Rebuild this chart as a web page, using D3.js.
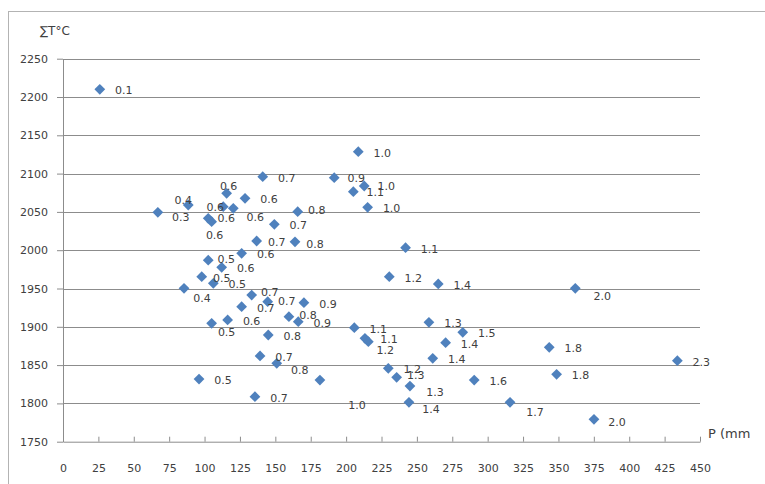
<!DOCTYPE html>
<html>
<head>
<meta charset="utf-8">
<script src="https://cdn.jsdelivr.net/npm/d3@7/dist/d3.min.js"></script>
<style>
  html, body { margin: 0; padding: 0; background: #ffffff; overflow: hidden; }
  svg { display: block; }
</style>
</head>
<body>
<svg id="chart" width="765" height="484"></svg>
<script>
// ---- data ----
const precipitation = [26, 67, 88.5, 115.6, 128.6, 113.2, 120.3, 102.6, 105, 141.1,
  149.3, 165.8, 136.8, 163.9, 126.2, 102.6, 112.1, 98, 106.2, 85.5,
  133.3, 126.2, 144.6, 170.2, 159.6, 166.2, 105, 116.3, 145, 139.2,
  151, 96.1, 135.6, 181.5, 191.6, 208.6, 205.1, 212.8, 215.2, 242,
  230.5, 265.1, 205.8, 213.3, 215.7, 258.5, 282.4, 270.3, 261.2, 229.8,
  235.7, 245.1, 244.4, 290.5, 315.8, 343.5, 348.7, 361.9, 434, 375.1];
const tempSum = [2210, 2049.5, 2059, 2074.3, 2067.8, 2056.8, 2054.7, 2041.6, 2037.2, 2096,
  2033.8, 2050.3, 2012, 2011, 1996, 1987, 1977.7, 1965.4, 1956.8, 1950.3,
  1941.5, 1926.2, 1932.8, 1931.5, 1913.2, 1906.7, 1904.6, 1908.9, 1889.3, 1861.9,
  1852.3, 1831.8, 1808.7, 1830.5, 2094.6, 2128.6, 2076.4, 2083.8, 2056, 2003.3,
  1965.4, 1955.9, 1898.8, 1885, 1880.5, 1905.9, 1892.8, 1879.2, 1858.9, 1845.8,
  1834.1, 1822.7, 1801.4, 1830.5, 1801.4, 1873.2, 1838, 1950.3, 1855.7, 1779.2];
const pointLabels = ["0.1", "0.3", "0.4", "0.6", "0.6", "0.6", "0.6", "0.6", "0.6", "0.7",
  "0.7", "0.8", "0.7", "0.8", "0.6", "0.5", "0.6", "0.5", "0.5", "0.4",
  "0.7", "0.7", "0.7", "0.9", "0.8", "0.9", "0.5", "0.6", "0.8", "0.7",
  "0.8", "0.5", "0.7", "1.0", "0.9", "1.0", "1.1", "1.0", "1.0", "1.1",
  "1.2", "1.4", "1.1", "1.1", "1.2", "1.3", "1.5", "1.4", "1.4", "1.2",
  "1.3", "1.3", "1.4", "1.6", "1.7", "1.8", "1.8", "2.0", "2.3", "2.0"];
const xTicks = [0, 25, 50, 75, 100, 125, 150, 175, 200, 225, 250, 275, 300, 325, 350, 375, 400, 425, 450];
const yTicks = [1750, 1800, 1850, 1900, 1950, 2000, 2050, 2100, 2150, 2200, 2250];
const yTitle = "∑T°C";
const xTitle = "P (mm";

// ---- layout (label placement tweaks, px) ----
const defaultNudge = [24, 1];
const labelNudge = {
  2: [23, 5], 3: [-5, -5], 4: [2, -7], 6: [-8, 0], 7: [22, 9], 8: [18, 0], 9: [3, 13],
  12: [19, -2], 13: [20, 1], 14: [20, 2], 16: [18, -1], 18: [20, 1], 20: [18, 10],
  21: [18, -3], 23: [19, -1], 25: [19, -2], 27: [15, 9], 31: [23, 7], 34: [37, 25],
  35: [22, 0], 37: [22, 0], 38: [22, 0], 45: [17, 8], 51: [19, -2], 52: [25, 6],
  53: [22, 7], 55: [25, 10], 58: [27, 8], 60: [23, 3]
};

const svg = d3.select("#chart");
const x = d3.scaleLinear().domain([0, 450]).range([63, 700]);
const y = d3.scaleLinear().domain([1750, 2250]).range([441.7, 58.7]);

// outer frame
svg.append("rect")
  .attr("x", 8.5).attr("y", 11.5).attr("width", 770).attr("height", 490)
  .attr("fill", "none").attr("stroke", "#b3b3b3").attr("stroke-width", 1);

// gridlines
svg.append("g").selectAll("line").data(yTicks.filter(t => t !== 1750)).join("line")
  .attr("x1", x(0)).attr("x2", x(450))
  .attr("y1", d => Math.round(y(d)) + 0.5).attr("y2", d => Math.round(y(d)) + 0.5)
  .attr("stroke", "#8c8c8c").attr("stroke-width", 1);

const font = "'DejaVu Sans', sans-serif";

// y axis
const gy = svg.append("g").attr("transform", `translate(${x(0)},0)`)
  .call(d3.axisLeft(y).tickValues(yTicks).tickSize(6).tickSizeOuter(0).tickPadding(9).tickFormat(d3.format("d")));
gy.select(".domain").attr("stroke", "#8c8c8c");
gy.selectAll(".tick line").attr("stroke", "#8c8c8c");
gy.selectAll("text").attr("font-family", font).attr("font-size", 11).attr("fill", "#404040");

// x axis
const gx = svg.append("g").attr("transform", `translate(0,${y(1750)})`)
  .call(d3.axisBottom(x).tickValues(xTicks).tickSize(-5).tickSizeOuter(0).tickPadding(23).tickFormat(d3.format("d")));
gx.select(".domain").attr("stroke", "#8c8c8c");
gx.selectAll(".tick line").attr("stroke", "#8c8c8c");
gx.selectAll("text").attr("font-family", font).attr("font-size", 11).attr("fill", "#404040");

// titles
svg.append("text").attr("x", 40).attr("y", 35).text(yTitle)
  .attr("font-family", font).attr("font-size", 12).attr("fill", "#404040");
svg.append("text").attr("x", 708).attr("y", 438).text(xTitle)
  .attr("font-family", font).attr("font-size", 13).attr("fill", "#404040");

const pts = precipitation.map((p, i) => ({ p, t: tempSum[i], label: pointLabels[i], i }));

// markers
const diamond = d3.symbol().type(d3.symbolSquare).size(58);
svg.append("g").selectAll("path").data(pts).join("path")
  .attr("d", diamond)
  .attr("transform", d => `translate(${x(d.p)},${y(d.t)}) rotate(45)`)
  .attr("fill", "#4f81bd");

// data labels
svg.append("g").selectAll("text").data(pts).join("text")
  .attr("x", d => x(d.p) + (labelNudge[d.i + 1] || defaultNudge)[0])
  .attr("y", d => y(d.t) + (labelNudge[d.i + 1] || defaultNudge)[1])
  .attr("dy", "0.35em")
  .attr("text-anchor", "middle")
  .attr("font-family", font).attr("font-size", 11).attr("fill", "#404040")
  .text(d => d.label);
</script>
</body>
</html>
